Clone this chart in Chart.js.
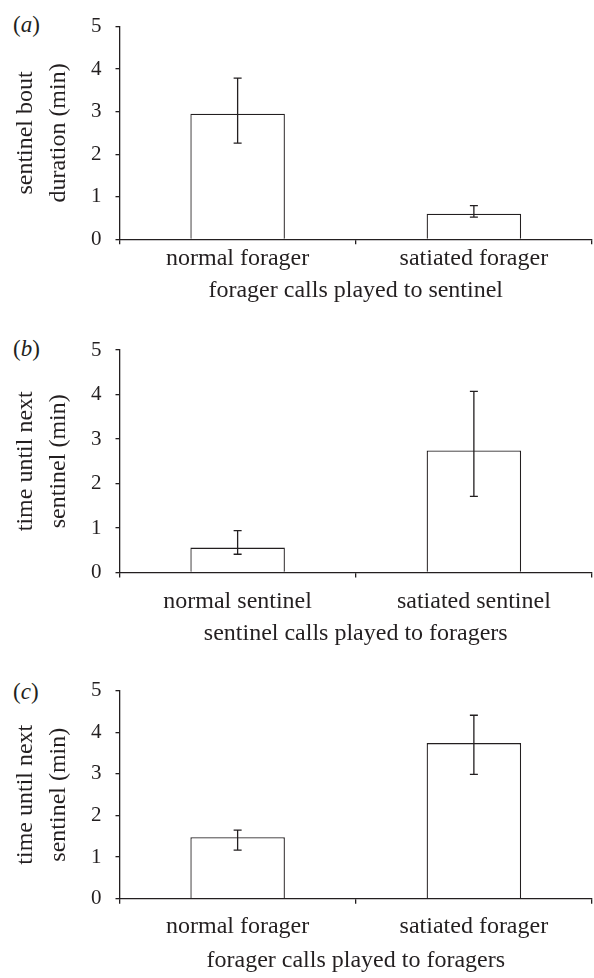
<!DOCTYPE html>
<html>
<head>
<meta charset="utf-8">
<script src="https://cdn.jsdelivr.net/npm/chart.js@4.4.1/dist/chart.umd.min.js"></script>
<style>
  html, body { margin: 0; padding: 0; background: #fff; }
  body { width: 594px; height: 978px; position: relative; overflow: hidden; }
  .panel { position: absolute; left: 0; width: 594px; }
  .tag { position: absolute; left: 13px; font-family: 'Liberation Serif', serif; font-size: 23px; line-height: 24px; color: #231f20; }
</style>
</head>
<body>
<div class="tag" style="top:13px">(<i>a</i>)</div>
<div class="tag" style="top:337px">(<i>b</i>)</div>
<div class="tag" style="top:680px">(<i>c</i>)</div>
<div class="panel" style="top:0;height:305px"><canvas id="chartA"></canvas></div>
<div class="panel" style="top:320px;height:328px"><canvas id="chartB"></canvas></div>
<div class="panel" style="top:650px;height:325px"><canvas id="chartC"></canvas></div>
<script>
// panel (a): forager calls played to sentinel
const catsA = ['normal forager', 'satiated forager'];
const meanA = [2.95, 0.60];
const lowA = [2.26, 0.52];
const highA = [3.79, 0.79];

// panel (b): sentinel calls played to foragers
const catsB = ['normal sentinel', 'satiated sentinel'];
const meanB = [0.56, 2.74];
const lowB = [0.41, 1.71];
const highB = [0.94, 4.07];

// panel (c): forager calls played to foragers
const catsC = ['normal forager', 'satiated forager'];
const meanC = [1.48, 3.74];
const lowC = [1.17, 2.99];
const highC = [1.65, 4.41];

const yTicks = [0, 1, 2, 3, 4, 5];

const ink = '#231f20';
const serif = "'Liberation Serif', 'Times New Roman', serif";

// error bars drawn through the y scale
const errorBars = {
  id: 'errorBars',
  afterDatasetsDraw(chart, args, opts) {
    const { ctx, scales: { y } } = chart;
    const meta = chart.getDatasetMeta(0);
    ctx.save();
    ctx.strokeStyle = ink;
    ctx.lineWidth = 1.3;
    meta.data.forEach((bar, i) => {
      const x = bar.x;
      const yHi = y.getPixelForValue(opts.high[i]);
      const yLo = y.getPixelForValue(opts.low[i]);
      ctx.beginPath();
      ctx.moveTo(x, yHi); ctx.lineTo(x, yLo);
      ctx.moveTo(x - 4, yHi); ctx.lineTo(x + 4, yHi);
      ctx.moveTo(x - 4, yLo); ctx.lineTo(x + 4, yLo);
      ctx.stroke();
    });
    ctx.restore();
  }
};

function buildPanel(id, cats, mean, low, high, yTitle, xTitle, padTop, axisH, labelPad) {
  const ctx = document.getElementById(id);
  return new Chart(ctx, {
    type: 'bar',
    data: {
      labels: cats,
      datasets: [{
        data: mean,
        backgroundColor: '#ffffff',
        borderColor: ink,
        borderWidth: 1.3,
        barPercentage: 0.4,
        categoryPercentage: 1
      }]
    },
    options: {
      responsive: true,
      maintainAspectRatio: false,
      animation: false,
      layout: { padding: { left: 0, right: 2, top: padTop, bottom: 0 } },
      plugins: {
        legend: { display: false },
        tooltip: { enabled: false },
        errorBars: { low: low, high: high }
      },
      scales: {
        x: {
          offset: true,
          grid: { display: true, drawOnChartArea: false, offset: true, tickLength: 5, color: ink, lineWidth: 1.3 },
          border: { display: true, color: ink, width: 1.3 },
          ticks: { color: ink, font: { family: serif, size: 24 }, padding: labelPad, maxRotation: 0, autoSkip: false },
          title: { display: true, text: xTitle, color: ink, font: { family: serif, size: 24 }, padding: 0 },
          afterFit: s => { s.height = axisH; }
        },
        y: {
          min: 0,
          max: 5,
          afterBuildTicks: s => { s.ticks = yTicks.map(v => ({ value: v })); },
          grid: { display: true, drawOnChartArea: false, tickLength: 4, color: ink, lineWidth: 1.3 },
          border: { display: true, color: ink, width: 1.3 },
          ticks: { color: ink, font: { family: serif, size: 21 }, padding: 14 },
          title: { display: true, text: yTitle, color: ink, font: { family: serif, size: 24, lineHeight: 1.38 }, padding: { top: 9, bottom: 0 } },
          afterFit: s => { s.width = 119.5; }
        }
      }
    },
    plugins: [errorBars]
  });
}

buildPanel('chartA', catsA, meanA, lowA, highA, ['sentinel bout', 'duration (min)'], 'forager calls played to sentinel', 25, 65.7, 0.3);
buildPanel('chartB', catsB, meanB, lowB, highB, ['time until next', 'sentinel (min)'], 'sentinel calls played to foragers', 30, 75.5, 10);
buildPanel('chartC', catsC, meanC, lowC, highC, ['time until next', 'sentinel (min)'], 'forager calls played to foragers', 40.7, 76.3, 9);
</script>
</body>
</html>
